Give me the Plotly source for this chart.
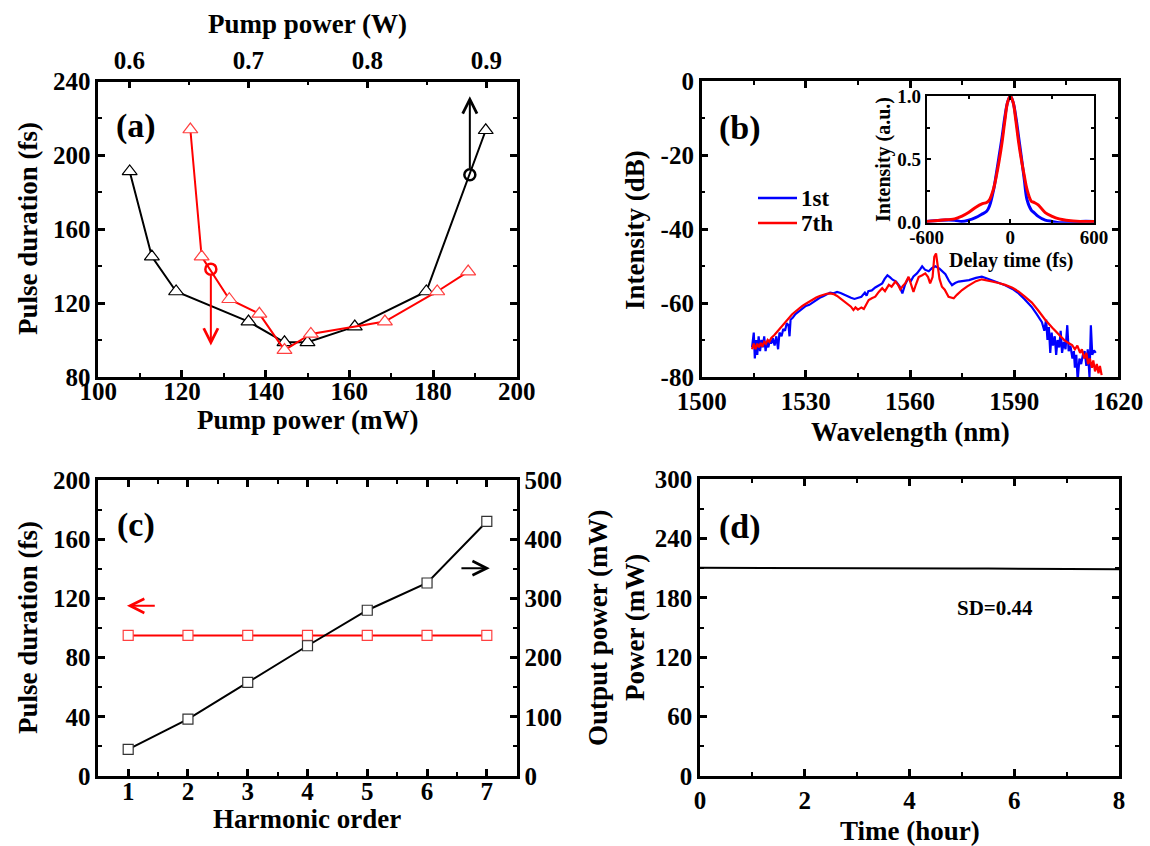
import plotly.graph_objects as go

# ---------------- data ----------------
# (a) pulse duration vs pump power
pump_black = [107.5, 112.8, 118.6, 135.9, 144.5, 150.0, 161.3, 178.4, 192.6]
dur_black = [191.3, 145.2, 126.3, 110.0, 98.8, 98.8, 107.3, 126.3, 213.6]
pump_red = [122.0, 124.7, 131.3, 138.5, 144.5, 150.8, 168.5, 181.0, 188.4]
dur_red = [214.0, 145.2, 122.1, 114.2, 94.6, 103.3, 110.0, 126.3, 137.1]
circle_black = (188.8, 189.5)
circle_red = (126.9, 138.4)
arrow_black_end = 232.0
arrow_red_end = 97.0
pump_w_ticks = [0.6, 0.7, 0.8, 0.9]
pump_w_range = [0.574, 0.9255]

# (b) optical spectra
wl_blue = [1514.5, 1515, 1515.3, 1515.7, 1516, 1516.4, 1516.8, 1517.2, 1517.6, 1518, 1518.4, 1518.8,
           1519.2, 1519.6, 1520, 1520.5, 1521, 1521.5, 1522, 1522.4, 1523, 1523.5, 1524, 1524.5, 1525,
           1525.3, 1525.6, 1526.2, 1527, 1528, 1529, 1530, 1531, 1532, 1533, 1534, 1535, 1536, 1537,
           1538, 1539, 1540, 1541, 1542, 1543, 1544, 1545, 1546, 1547, 1547.5, 1548, 1549, 1550, 1551,
           1552, 1552.7, 1553.5, 1554.2, 1555, 1556, 1557, 1557.8, 1558.6, 1559.5, 1560.3, 1561, 1562,
           1563, 1563.5, 1564.3, 1565.4, 1566.3, 1567.3, 1568.5, 1569.5, 1570.2, 1571.2, 1572.1, 1573,
           1574, 1575.5, 1577, 1579, 1580.7, 1582, 1583.6, 1585.5, 1587.4, 1589.5, 1591.3, 1593, 1595,
           1596.5, 1598, 1598.7, 1599.2, 1599.6, 1600, 1600.4, 1600.8, 1601.2, 1601.7, 1602.1, 1602.5,
           1603, 1603.4, 1603.8, 1604.3, 1604.8, 1605.3, 1605.7, 1606.2, 1606.8, 1607.2, 1607.5, 1607.9,
           1608.3, 1608.8, 1609.3, 1609.8, 1610.3, 1610.8, 1611.2, 1611.7, 1612.1, 1612.5, 1613, 1613.5]
db_blue = [-72, -68, -75, -70, -74, -69, -73, -70, -72, -69, -73, -70.5,
           -72, -70, -71, -69.5, -71.5, -69, -72.5, -68, -69, -67, -67.5, -65.5, -66,
           -69, -64.5, -64, -63, -62.3, -61.5, -60.8, -60.5, -59.8, -59.3, -58.6, -58.2, -57.6, -57.2,
           -57.4, -57, -57.3, -57.8, -58.2, -58.6, -58.9, -58.7, -58.3, -57.2, -58, -56.8, -56.6, -55.8, -55.3,
           -54.7, -53.5, -52.5, -53, -53.7, -54.2, -55.5, -57.4, -55, -53.3, -54, -52.8, -52,
           -50.8, -50.1, -51, -51.4, -50.6, -50.1, -50.7, -51.5, -52.2, -54, -55.2, -54.6,
           -54.2, -54, -53.8, -53.2, -52.9, -53.3, -53.8, -54.4, -55.2, -56.2, -57.4, -59, -61,
           -63, -65.2, -67.5, -64.5, -70, -66.5, -73.5, -68, -71.5, -69, -74, -70,
           -72, -67.5, -73.5, -70.5, -72.5, -66, -73, -71.5, -75, -73, -77.5, -74,
           -81, -75, -76.5, -74, -73, -77, -72.5, -80, -66, -74, -72.8, -73.5]
wl_red = [1514.5, 1515, 1515.5, 1516, 1516.5, 1517, 1517.5, 1518, 1518.5, 1519, 1519.5, 1520, 1521,
          1522, 1523, 1524, 1525, 1526, 1527, 1528, 1529, 1530, 1531, 1532, 1533, 1534, 1535, 1536,
          1537, 1538, 1539, 1540, 1541, 1542, 1543, 1543.7, 1544.3, 1545, 1546, 1546.7, 1547.5, 1548.1,
          1549, 1550, 1551, 1552, 1552.8, 1553.9, 1554.7, 1555.8, 1556.5, 1557.2, 1558, 1558.6, 1559.6,
          1560.5, 1561, 1561.7, 1562.5, 1563.5, 1564.4, 1565.2, 1565.8, 1566.5, 1567, 1567.5, 1568,
          1568.5, 1569.2, 1570, 1571.1, 1572.6, 1573.5, 1575, 1576.5, 1577.8, 1579, 1580.7, 1582,
          1583.6, 1585.5, 1587.4, 1589.5, 1591.3, 1593, 1595.1, 1597, 1599, 1601, 1602.8, 1604.5, 1606,
          1606.7, 1607.5, 1608.2, 1609, 1609.5, 1610.2, 1610.8, 1611.3, 1611.8, 1612.4, 1612.8, 1613.3,
          1613.8, 1614.3, 1614.7, 1615.2]
db_red = [-72.5, -71, -72.5, -71, -72, -70.8, -71.8, -70.5, -71, -70, -70.5, -69.5, -68.6,
          -67.5, -66.2, -65, -64, -63.1, -62.3, -61.5, -60.8, -60.2, -59.6, -59, -58.5, -58.1, -57.7, -57.5,
          -57.4, -57.6, -58.1, -58.8, -59.6, -60.4, -61, -61.9, -61.2, -61.8, -61.2, -61.6, -60, -59.2,
          -58.7, -58.3, -57, -56, -56.8, -55.1, -55.6, -54.2, -55, -56.3, -55.3, -54.7, -52.9,
          -55.5, -57, -55, -53, -52.5, -52, -53, -54.7, -53, -47.5, -46.6, -50,
          -53.5, -55.6, -56.4, -58.3, -58.7, -57.8, -56.5, -55.5, -54.7, -54.1, -53.6, -53.8,
          -54.2, -54.6, -55.1, -55.9, -56.9, -58.2, -59.9, -62.1, -64.6, -66.7, -68.6, -70.1, -71,
          -71.4, -72.5, -71.5, -73.5, -72.5, -75, -73.5, -76.5, -75, -77.5, -75.5, -78.5,
          -76.5, -79, -77, -79.5]
spec_yticks = [-80, -60, -40, -20, 0]
legend_names = ['1st', '7th']

# (b) inset: autocorrelation traces
delay = [-600, -500, -400, -350, -300, -250, -200, -170, -150, -120, -100, -80, -60, -40, -20, 0,
         20, 40, 60, 80, 100, 120, 150, 170, 200, 250, 300, 350, 400, 500, 600]
ac_red = [0.01, 0.02, 0.03, 0.05, 0.08, 0.12, 0.15, 0.16, 0.18, 0.27, 0.37, 0.49, 0.63, 0.8, 0.95, 1.0,
          0.95, 0.8, 0.63, 0.49, 0.37, 0.26, 0.17, 0.16, 0.14, 0.08, 0.05, 0.03, 0.02, 0.01, 0.01]
ac_blue = [0.01, 0.02, 0.02, 0.01, 0.02, 0.04, 0.07, 0.09, 0.13, 0.26, 0.39, 0.53, 0.67, 0.83, 0.95, 1.0,
           0.95, 0.83, 0.67, 0.51, 0.34, 0.18, 0.1, 0.08, 0.05, 0.02, 0.01, 0.0, 0.0, 0.01, 0.01]
inset_xticks = [-600, 0, 600]

# (c) harmonic order
harmonic = [1, 2, 3, 4, 5, 6, 7]
pulse_c = [95, 95, 95, 95, 95, 95, 95]
output_c = [45, 96, 158, 220, 280, 326, 430]
arrow_red_c = (1.47, 0.98, 115.0)    # tail x, head x, y (left axis)
arrow_black_c = (6.55, 7.05, 351.0)  # tail x, head x, y (right axis)

# (d) long-term stability
time_h = [0, 0.5, 1, 1.5, 2, 2.5, 3, 3.5, 4, 4.5, 5, 5.5, 6, 6.5, 7, 7.5, 8]
power_d = [210.3, 210.3, 210.2, 210.2, 210.2, 210.1, 209.9, 209.8, 209.7, 209.7, 209.6, 209.5,
           209.4, 209.3, 209.2, 209.0, 208.9]

# ---------------- figure ----------------
FONT = 'Liberation Serif, Times New Roman, serif'
W, H = 1150, 846
RED = '#ff0000'
BLUE = '#0000ff'
TICK = 25
TITLE = 27


def px_x(v):
    return v / W


def px_y(v):
    return 1 - v / H


def font(size, color='black'):
    return dict(family=FONT, size=size, color=color, weight='bold')


def axis(**kw):
    base = dict(showline=True, linecolor='black', linewidth=2.5, ticks='inside', ticklen=7,
                tickwidth=2.5, tickcolor='black', showgrid=False, zeroline=False,
                tickfont=font(TICK), mirror='ticks', automargin=False,
                minor=dict(ticks='inside', ticklen=4, tickwidth=2, tickcolor='black', showgrid=False))
    minor = kw.pop('minor', None)
    if minor:
        base['minor'].update(minor)
    base.update(kw)
    return base


fig = go.Figure()

# (a)
fig.add_trace(go.Scatter(x=pump_black, y=dur_black, mode='lines+markers', showlegend=False,
                         line=dict(color='black', width=2),
                         marker=dict(symbol='triangle-up', size=13, color='white',
                                     line=dict(color='black', width=1.2)),
                         xaxis='x', yaxis='y'))
fig.add_trace(go.Scatter(x=pump_red, y=dur_red, mode='lines+markers', showlegend=False,
                         line=dict(color=RED, width=2),
                         marker=dict(symbol='triangle-up', size=13, color='white',
                                     line=dict(color='#ff4040', width=1.2)),
                         xaxis='x', yaxis='y'))
fig.add_trace(go.Scatter(x=[circle_black[0]], y=[circle_black[1]], mode='markers', showlegend=False,
                         marker=dict(symbol='circle-open', size=11, color='black', line=dict(width=2.5)),
                         xaxis='x', yaxis='y'))
fig.add_trace(go.Scatter(x=[circle_red[0]], y=[circle_red[1]], mode='markers', showlegend=False,
                         marker=dict(symbol='circle-open', size=11, color=RED, line=dict(width=2.5)),
                         xaxis='x', yaxis='y'))
fig.add_trace(go.Scatter(x=pump_w_ticks, y=[None] * len(pump_w_ticks), mode='markers', showlegend=False,
                         xaxis='x2', yaxis='y', hoverinfo='skip'))

# (b)
fig.add_trace(go.Scatter(x=wl_blue, y=db_blue, mode='lines', name=legend_names[0], showlegend=False,
                         line=dict(color=BLUE, width=2.2), xaxis='x3', yaxis='y3'))
fig.add_trace(go.Scatter(x=wl_red, y=db_red, mode='lines', name=legend_names[1], showlegend=False,
                         line=dict(color=RED, width=2.2), xaxis='x3', yaxis='y3'))
fig.add_trace(go.Scatter(x=delay, y=ac_blue, mode='lines', showlegend=False, line_shape='spline',
                         line=dict(color=BLUE, width=3), xaxis='x4', yaxis='y4'))
fig.add_trace(go.Scatter(x=delay, y=ac_red, mode='lines', showlegend=False, line_shape='spline',
                         line=dict(color=RED, width=3), xaxis='x4', yaxis='y4'))

# (c)
fig.add_trace(go.Scatter(x=harmonic, y=pulse_c, mode='lines+markers', showlegend=False,
                         line=dict(color=RED, width=2),
                         marker=dict(symbol='square', size=10, color='white',
                                     line=dict(color='#ff4040', width=1.2)),
                         xaxis='x5', yaxis='y5'))
fig.add_trace(go.Scatter(x=harmonic, y=output_c, mode='lines+markers', showlegend=False,
                         line=dict(color='black', width=2),
                         marker=dict(symbol='square', size=10, color='white',
                                     line=dict(color='#333333', width=1.2)),
                         xaxis='x5', yaxis='y6'))

# (d)
fig.add_trace(go.Scatter(x=time_h, y=power_d, mode='lines', showlegend=False,
                         line=dict(color='black', width=2), xaxis='x7', yaxis='y7'))

# domains
dxa = [px_x(98.3), px_x(516.7)]
dya = [px_y(377), px_y(81.5)]
dxb = [px_x(701.7), px_x(1118.3)]
dyb = [px_y(377), px_y(81)]
dxi = [px_x(926.7), px_x(1094)]
dyi = [px_y(222.7), px_y(96)]
dxc = [px_x(98.3), px_x(516.7)]
dyc = [px_y(776), px_y(480)]
dxd = [px_x(700), px_x(1119)]
dyd = [px_y(776), px_y(479)]

fig.update_layout(
    template='none',
    width=W, height=H, margin=dict(l=0, r=0, t=0, b=0, pad=0, autoexpand=False),
    paper_bgcolor='white', plot_bgcolor='white',
    font=font(TICK), showlegend=False,
    xaxis=axis(domain=dxa, anchor='y', range=[100, 200], dtick=20, minor=dict(dtick=10), mirror=False,
               ticklabelstandoff=-10),
    xaxis2=axis(overlaying='x', anchor='y', side='top', range=pump_w_range, tickvals=pump_w_ticks,
                ticktext=[f'{v:.1f}' for v in pump_w_ticks], mirror=False,
                minor=dict(tickvals=[0.65, 0.75, 0.85])),
    yaxis=axis(domain=dya, anchor='x', range=[80, 240], dtick=40, minor=dict(dtick=20)),
    xaxis3=axis(domain=dxb, anchor='y3', range=[1500, 1620], dtick=30, minor=dict(dtick=15)),
    yaxis3=axis(domain=dyb, anchor='x3', range=[-80, 0], tickvals=spec_yticks,
                ticktext=[str(v) for v in spec_yticks], minor=dict(tickvals=[-70, -50, -30, -10])),
    xaxis4=axis(domain=dxi, anchor='y4', range=[-600, 600], tickvals=inset_xticks,
                ticktext=[str(v) for v in inset_xticks], tickfont=font(19), ticklen=4, tickwidth=2,
                linewidth=2, minor=dict(tickvals=[-300, 300], ticklen=3), ticklabelstandoff=-4),
    yaxis4=axis(domain=dyi, anchor='x4', range=[0, 1], dtick=0.5, tickformat='.1f', tickfont=font(19),
                ticklen=4, tickwidth=2, linewidth=2, minor=dict(dtick=0.25, ticklen=3)),
    xaxis5=axis(domain=dxc, anchor='y5', range=[0.5, 7.5], dtick=1, minor=dict(dtick=0.5),
                ticklabelstandoff=-9),
    yaxis5=axis(domain=dyc, anchor='x5', range=[0, 200], dtick=40, minor=dict(dtick=20), mirror=False),
    yaxis6=axis(overlaying='y5', anchor='x5', side='right', range=[0, 500], dtick=100,
                minor=dict(dtick=50), mirror=False),
    xaxis7=axis(domain=dxd, anchor='y7', range=[0, 8], dtick=2, minor=dict(dtick=1)),
    yaxis7=axis(domain=dyd, anchor='x7', range=[0, 300], dtick=60, minor=dict(dtick=30)),
)

# legend of panel (b), drawn from the trace names/colours
shapes = []
ann = []
for i, (name, col) in enumerate(zip(legend_names, [BLUE, RED])):
    yy = 198 + 25 * i
    shapes.append(dict(type='line', xref='paper', yref='paper', x0=px_x(758), x1=px_x(797),
                       y0=px_y(yy), y1=px_y(yy), line=dict(color=col, width=2.5)))
    ann.append(dict(text=name, x=px_x(799), y=px_y(yy), xref='paper', yref='paper', showarrow=False,
                    font=font(23), xanchor='left', yanchor='middle'))

# panel labels
for txt, x, y in [('(a)', 136, 126), ('(b)', 740, 128), ('(c)', 136, 525), ('(d)', 740, 527)]:
    ann.append(dict(text=txt, x=px_x(x), y=px_y(y), xref='paper', yref='paper', showarrow=False,
                    font=font(34), xanchor='center', yanchor='middle'))
# axis titles
titles = [
    ('Pump power (W)', 308, 24, 0),
    ('Pump power (mW)', 307, 420, 0),
    ('Pulse duration (fs)', 28, 229, -90),
    ('Intensity (dB)', 635, 230, -90),
    ('Wavelength (nm)', 910, 432, 0),
    ('Pulse duration (fs)', 28, 628, -90),
    ('Output power (mW)', 598, 628, -90),
    ('Harmonic order', 307, 819, 0),
    ('Power (mW)', 635, 628, -90),
    ('Time (hour)', 910, 831, 0),
]
for txt, x, y, ang in titles:
    ann.append(dict(text=txt, x=px_x(x), y=px_y(y), xref='paper', yref='paper', showarrow=False,
                    font=font(TITLE), textangle=ang, xanchor='center', yanchor='middle'))
# inset titles
ann.append(dict(text='Intensity (a.u.)', x=px_x(883), y=px_y(160), xref='paper', yref='paper',
                showarrow=False, font=font(20), textangle=-90, xanchor='center', yanchor='middle'))
ann.append(dict(text='Delay time (fs)', x=px_x(1011), y=px_y(260), xref='paper', yref='paper',
                showarrow=False, font=font(20), xanchor='center', yanchor='middle'))
# arrows (a)
ann.append(dict(x=circle_black[0], y=arrow_black_end, ax=circle_black[0], ay=circle_black[1],
                xref='x', yref='y', axref='x', ayref='y', showarrow=True, arrowhead=5, arrowwidth=2,
                arrowsize=1.4, arrowcolor='black', standoff=0, startstandoff=5, text=''))
ann.append(dict(x=circle_red[0], y=arrow_red_end, ax=circle_red[0], ay=circle_red[1],
                xref='x', yref='y', axref='x', ayref='y', showarrow=True, arrowhead=5, arrowwidth=2,
                arrowsize=1.4, arrowcolor=RED, standoff=0, startstandoff=5, text=''))
# arrows (c)
ann.append(dict(x=arrow_red_c[1], y=arrow_red_c[2], ax=arrow_red_c[0], ay=arrow_red_c[2],
                xref='x5', yref='y5', axref='x5', ayref='y5', showarrow=True, arrowhead=5,
                arrowwidth=2, arrowsize=1.4, arrowcolor=RED, text=''))
ann.append(dict(x=arrow_black_c[1], y=arrow_black_c[2], ax=arrow_black_c[0], ay=arrow_black_c[2],
                xref='x5', yref='y6', axref='x5', ayref='y6', showarrow=True, arrowhead=5,
                arrowwidth=2, arrowsize=1.4, arrowcolor='black', text=''))
# SD text (d)
ann.append(dict(text='SD=0.44', x=5.64, y=170, xref='x7', yref='y7', showarrow=False, font=font(21),
                xanchor='center', yanchor='middle'))
fig.update_layout(annotations=ann, shapes=shapes)

fig.write_html('out.html', config={'displayModeBar': False},
               post_script="document.body.style.margin='0px';document.body.style.overflow='hidden';")
